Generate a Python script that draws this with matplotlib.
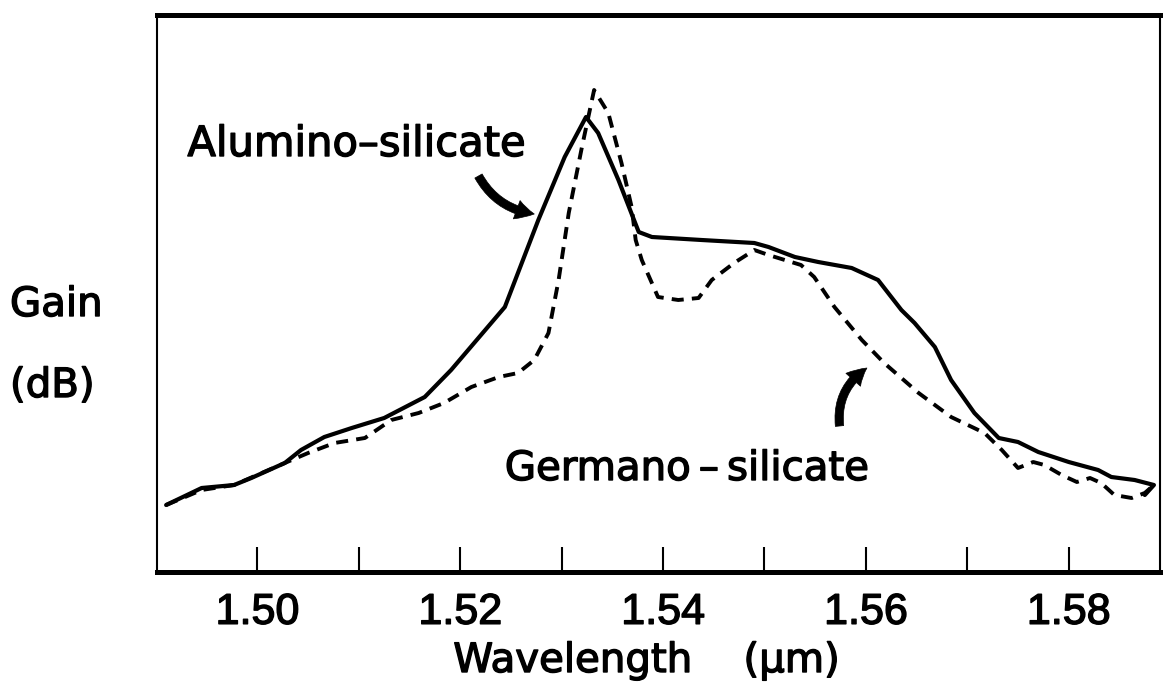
import matplotlib
matplotlib.use("Agg")
import matplotlib.pyplot as plt
import matplotlib.patheffects as pe

# ---- data (gain in arbitrary units) ----
alumino_wl = [1.4910, 1.4945, 1.4977, 1.4994, 1.5027, 1.5043, 1.5066, 1.5093, 1.5125,
              1.5165, 1.5191, 1.5244, 1.5277, 1.5303, 1.5324, 1.5336, 1.5356, 1.5376,
              1.5389, 1.5438, 1.5490, 1.5504, 1.5530, 1.5553, 1.5586, 1.5612, 1.5635,
              1.5648, 1.5668, 1.5684, 1.5707, 1.5731, 1.5750, 1.5770, 1.5800, 1.5829,
              1.5842, 1.5865, 1.5884, 1.5875]
alumino_gain = [6.7, 8.4, 8.7, 9.4, 10.9, 12.2, 13.5, 14.4, 15.4,
                17.5, 20.2, 26.5, 35.2, 41.5, 45.5, 43.9, 39.2, 34.0,
                33.5, 33.2, 32.9, 32.5, 31.5, 31.0, 30.4, 29.2, 26.2,
                24.9, 22.5, 19.2, 15.9, 13.4, 13.0, 12.0, 11.0, 10.2,
                9.5, 9.2, 8.7, 7.7]

germano_wl = [1.4910, 1.4945, 1.4977, 1.5027, 1.5050, 1.5076, 1.5106, 1.5132, 1.5159,
              1.5184, 1.5211, 1.5238, 1.5257, 1.5273, 1.5287, 1.5297, 1.5307, 1.5320,
              1.5332, 1.5346, 1.5359, 1.5369, 1.5373, 1.5379, 1.5395, 1.5415, 1.5435,
              1.5448, 1.5470, 1.5490, 1.5504, 1.5536, 1.5549, 1.5569, 1.5596, 1.5618,
              1.5652, 1.5684, 1.5717, 1.5734, 1.5750, 1.5765, 1.5776, 1.5793, 1.5808,
              1.5821, 1.5832, 1.5845, 1.5862, 1.5875, 1.5884]
germano_gain = [6.7, 8.2, 8.7, 10.9, 11.9, 12.9, 13.4, 15.2, 15.9,
                16.9, 18.5, 19.5, 19.9, 21.2, 23.9, 29.2, 35.9, 42.5,
                48.2, 45.9, 40.9, 36.5, 33.2, 31.2, 27.5, 27.2, 27.4,
                29.2, 30.9, 32.2, 31.7, 30.7, 29.5, 26.5, 23.2, 20.9,
                17.9, 15.5, 13.9, 12.2, 10.4, 11.0, 10.7, 9.7, 9.0,
                9.4, 8.9, 7.7, 7.4, 7.9, 8.7]

major_ticks = [1.50, 1.52, 1.54, 1.56, 1.58]
major_labels = ["1.50", "1.52", "1.54", "1.56", "1.58"]
minor_ticks = [1.51, 1.53, 1.55, 1.57]

label_alumino = "Alumino\u2013silicate"
label_germano = "Germano\u2009\u2013\u2009silicate"

# ---- figure ----
W, H = 1163, 694
fig = plt.figure(figsize=(W / 100, H / 100), dpi=100)
ax = fig.add_axes([157 / W, 1 - 572 / H, (1160 - 157) / W, (572 - 15) / H])

ax.plot(alumino_wl, alumino_gain, color="black", lw=3.0, solid_joinstyle="round",
        solid_capstyle="round")
ax.plot(germano_wl, germano_gain, color="black", lw=2.8, dashes=(3.1, 2.1))

ax.set_xlim(1.4901, 1.5890)
ax.set_ylim(0, 55.7)

thick = [pe.withStroke(linewidth=1.0, foreground="black")]

ax.set_xticks(major_ticks)
ax.set_xticklabels(major_labels, family=["Liberation Sans", "DejaVu Sans"], fontsize=31)
for t in ax.get_xticklabels():
    t.set_path_effects(thick)
ax.set_xticks(minor_ticks, minor=True)
ax.tick_params(axis="x", which="both", direction="in", length=18, width=1.5,
               pad=15, top=False)
ax.set_yticks([])

for side, lw in (("bottom", 3.6), ("top", 3.6), ("left", 1.5), ("right", 1.5)):
    ax.spines[side].set_linewidth(lw)
    ax.spines[side].set_color("black")

txt_kw = dict(family=["DejaVu Sans"], color="black", path_effects=thick)

ax.text(1.4931, 41.6, label_alumino, fontsize=30, ha="left", va="baseline", **txt_kw)
ax.text(1.5244, 9.2, label_germano, fontsize=29, ha="left", va="baseline", **txt_kw)

# curved arrows pointing to the curves
arrow_style = "simple,head_length=1.3,head_width=1.4,tail_width=0.6"
ax.annotate("", xy=(1.5273, 35.8), xytext=(1.5218, 39.6),
            arrowprops=dict(arrowstyle=arrow_style,
                            connectionstyle="arc3,rad=0.25", color="black", lw=0.5,
                            shrinkA=0, shrinkB=0))
ax.annotate("", xy=(1.5601, 20.4), xytext=(1.5574, 14.6),
            arrowprops=dict(arrowstyle=arrow_style,
                            connectionstyle="arc3,rad=-0.3", color="black", lw=0.5,
                            shrinkA=0, shrinkB=0))

fig.text(10 / W, 1 - 316 / H, "Gain", fontsize=29, ha="left", va="baseline", **txt_kw)
fig.text(10 / W, 1 - 397 / H, "(dB)", fontsize=29, ha="left", va="baseline", **txt_kw)
fig.text(646 / W, 1 - 672 / H, "Wavelength    (\u00b5m)", fontsize=29, ha="center",
         va="baseline", **txt_kw)

fig.savefig("out.png", dpi=100, facecolor="white")
